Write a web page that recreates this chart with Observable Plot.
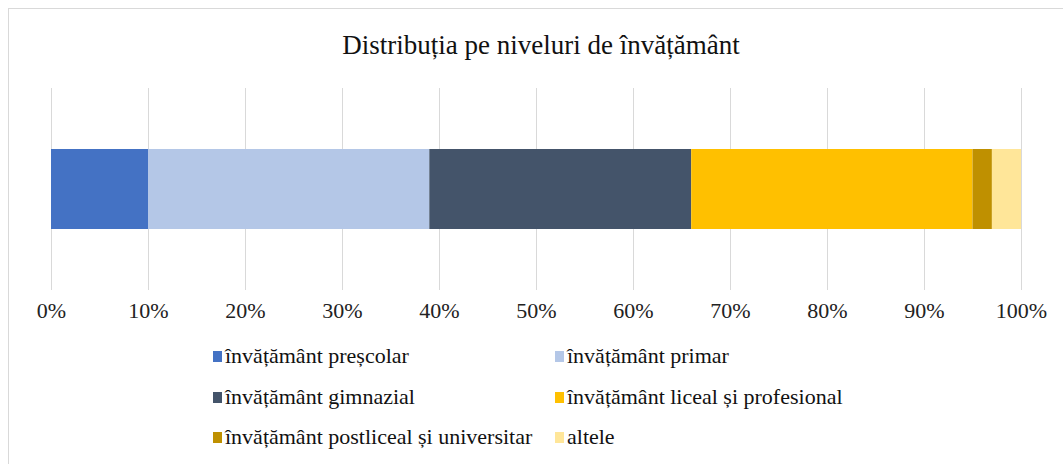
<!DOCTYPE html>
<html>
<head>
<meta charset="utf-8">
<script src="https://cdn.jsdelivr.net/npm/d3@7"></script>
<script src="https://cdn.jsdelivr.net/npm/@observablehq/plot@0.6"></script>
<style>
  body { margin: 0; background: #fff; font-family: "Liberation Serif", "Times New Roman", serif; }
  #wrap { position: relative; width: 1063px; height: 464px; overflow: hidden; }
  #frame { position: absolute; left: 8px; top: 8px; width: 1070px; height: 470px; border: 1px solid #d9d9d9; box-sizing: border-box; }
  #title { position: absolute; left: 8px; width: 1066px; top: 27px; line-height: 36px; text-align: center; font-size: 27px; color: #111; }
  #chart { position: absolute; left: 0; top: 70px; }
  .leg { position: absolute; font-size: 22px; line-height: 30px; color: #111; white-space: nowrap; }
  .sw { display: inline-block; width: 9px; height: 11px; margin-right: 3px; vertical-align: 1px; }
</style>
</head>
<body>
<div id="wrap">
  <div id="frame"></div>
  <div id="title">Distribuția pe niveluri de învățământ</div>
  <div id="chart"></div>
  <div id="legend"></div>
</div>
<script>
const categories = [
  "învățământ preșcolar",
  "învățământ primar",
  "învățământ gimnazial",
  "învățământ liceal și profesional",
  "învățământ postliceal și universitar",
  "altele"
];
const values = [10, 29, 27, 29, 2, 3];
const colors = ["#4472C4", "#B4C7E7", "#44546A", "#FFC000", "#BF9000", "#FFE699"];
const tickValues = [0, 10, 20, 30, 40, 50, 60, 70, 80, 90, 100];

const data = categories.map((c, i) => ({category: c, value: values[i], group: "total"}));

const chart = Plot.plot({
  width: 1063,
  height: 260,
  marginLeft: 51,
  marginRight: 42,
  marginTop: 18,
  marginBottom: 40,
  style: { fontFamily: "'Liberation Serif', 'Times New Roman', serif", fontSize: "22px", color: "#222", background: "transparent" },
  x: { domain: [0, 100], ticks: tickValues, tickFormat: d => d + "%", tickSize: 0, tickPadding: 12, label: null, grid: true },
  y: { axis: null, domain: ["total"], padding: 0.4326 },
  color: { domain: categories, range: colors },
  marks: [
    Plot.gridX(tickValues, { stroke: "#d9d9d9", strokeOpacity: 1 }),
    Plot.barX(data, Plot.stackX({ x: "value", y: "group", fill: "category", order: null }))
  ]
});
chart.querySelectorAll('[aria-label="x-grid"]').forEach((g, i) => { if (i === 0) g.remove(); });
document.getElementById("chart").appendChild(chart);

const legend = document.getElementById("legend");
const cols = [213, 555];
const rows = [341, 382, 422];
categories.forEach((c, i) => {
  const d = document.createElement("div");
  d.className = "leg";
  d.style.left = cols[i % 2] + "px";
  d.style.top = rows[Math.floor(i / 2)] + "px";
  const s = document.createElement("span");
  s.className = "sw";
  s.style.background = colors[i];
  d.appendChild(s);
  d.appendChild(document.createTextNode(c));
  legend.appendChild(d);
});
</script>
</body>
</html>
